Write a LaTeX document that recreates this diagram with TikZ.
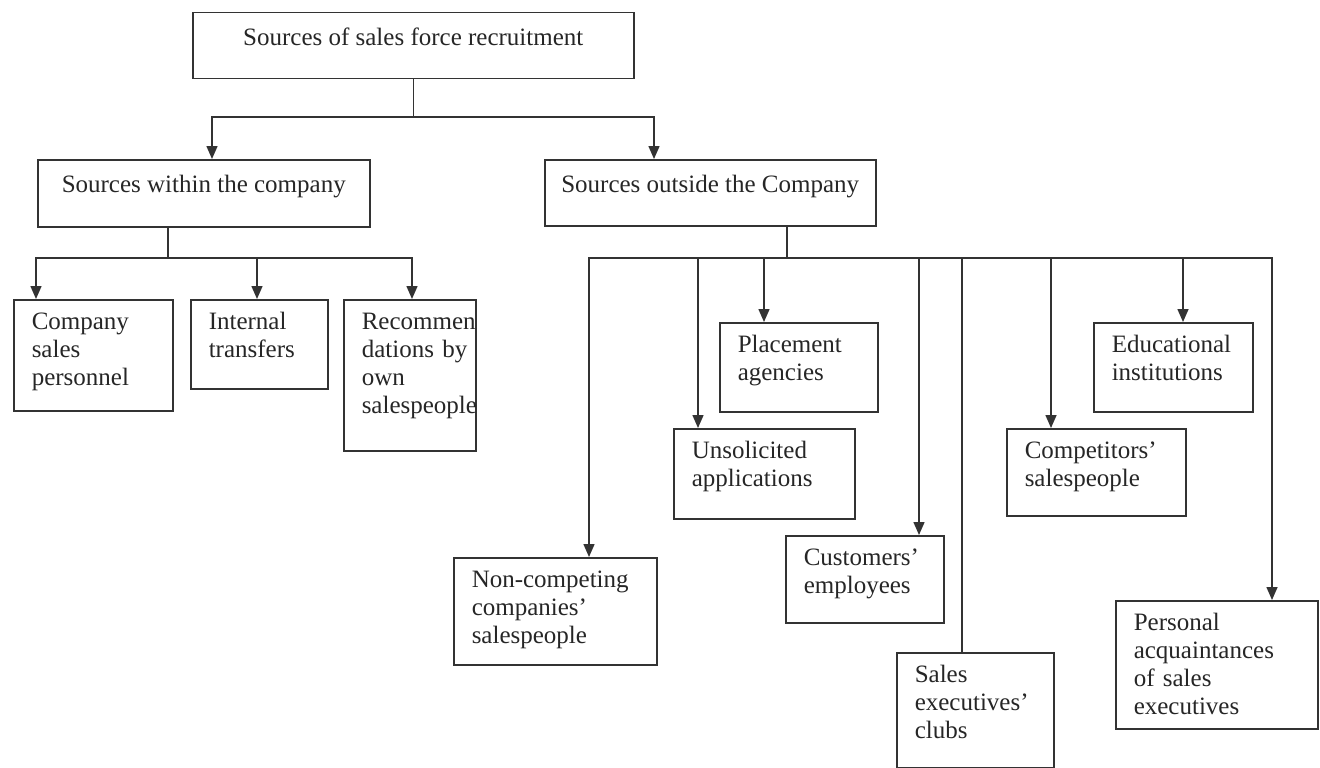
\documentclass[tikz,border=0pt]{standalone}
\usepackage{fontspec}
\setmainfont{Liberation Serif}
\usetikzlibrary{arrows.meta}
\tikzstyle{head} = [rectangle, draw=black!80, line width=1.5pt, anchor=north west, align=center, inner xsep=0pt, inner ysep=16pt, text height=17pt, text=black!85, font={\fontsize{25}{28}\selectfont}]
\tikzstyle{source} = [rectangle, draw=black!80, line width=1.5pt, anchor=north west, align=left, inner xsep=18pt, inner ysep=13pt, text height=17pt, text=black!85, font={\fontsize{25}{28}\selectfont\hyphenpenalty=10000}]
\tikzstyle{branch} = [line width=1.5pt, black!80, line cap=rect]
\tikzstyle{branch_arrow} = [branch, -{Triangle[length=13pt, width=11pt]}]

\begin{document}
\begin{tikzpicture}[x=1pt, y=-1pt]

    \useasboundingbox (0,0) rectangle (1320,768);

    \node (sources) [head, minimum width=441pt, text depth=17pt] at (192,12) {Sources of sales force recruitment};
    \node (within) [head, minimum width=332pt, text depth=18pt] at (37,159) {Sources within the company};
    \node (outside) [head, minimum width=331pt, text depth=17pt] at (544,159) {Sources outside the Company};

    % within the company
    \node (personnel) [source, text width=123pt, text depth=68pt] at (13,299) {Company\\sales\\personnel};
    \node (transfers) [source, text width=101pt, text depth=46pt] at (190,299) {Internal\\transfers};
    \node (referrals) [source, text width=96pt, text depth=108pt] at (343,299) {Recommen\\dations~by\\own\\salespeople};

    % outside the company
    \node (placement) [source, text width=122pt, text depth=46pt] at (719,322) {Placement\\agencies};
    \node (unsolicited) [source, text width=145pt, text depth=47pt] at (673,428) {Unsolicited\\applications};
    \node (noncompeting) [source, text width=167pt, text depth=64pt] at (453,557) {Non-competing\\companies'\\salespeople};
    \node (customers) [source, text width=122pt, text depth=44pt] at (785,535) {Customers'\\employees};
    \node (clubs) [source, text width=121pt, text depth=72pt] at (896,652) {Sales\\executives'\\clubs};
    \node (competitors) [source, text width=143pt, text depth=44pt] at (1006,428) {Competitors'\\salespeople};
    \node (education) [source, text width=123pt, text depth=46pt] at (1093,322) {Educational\\institutions};
    \node (acquaintances) [source, text width=166pt, text depth=85pt] at (1115,600) {Personal\\acquaintances\\of~sales\\executives};

    % top split
    \coordinate (split) at (sources.south |- 0,117);
    \draw [branch] (sources.south) -- (split);
    \draw [branch_arrow] (split) -| (within.north -| 212,0);
    \draw [branch_arrow] (split) -| (outside.north -| 654,0);

    % inside split
    \coordinate (splitin) at (168,258);
    \draw [branch] (within.south -| splitin) -- (splitin);
    \draw [branch] (splitin -| 36,0) -- (splitin -| 412,0);
    \foreach \n/\x in {personnel/36, transfers/257, referrals/412}
        \draw [branch_arrow] (splitin -| \x,0) -- (\n.north -| \x,0);

    % outside split
    \coordinate (splitout) at (787,258);
    \draw [branch] (outside.south -| splitout) -- (splitout);
    \draw [branch] (splitout -| 589,0) -- (splitout -| 1272,0);
    \foreach \n/\x in {noncompeting/589, unsolicited/698, placement/764, customers/919, competitors/1051, education/1183, acquaintances/1272}
        \draw [branch_arrow] (splitout -| \x,0) -- (\n.north -| \x,0);
    \draw [branch] (splitout -| 962,0) -- (clubs.north -| 962,0);

\end{tikzpicture}
\end{document}
